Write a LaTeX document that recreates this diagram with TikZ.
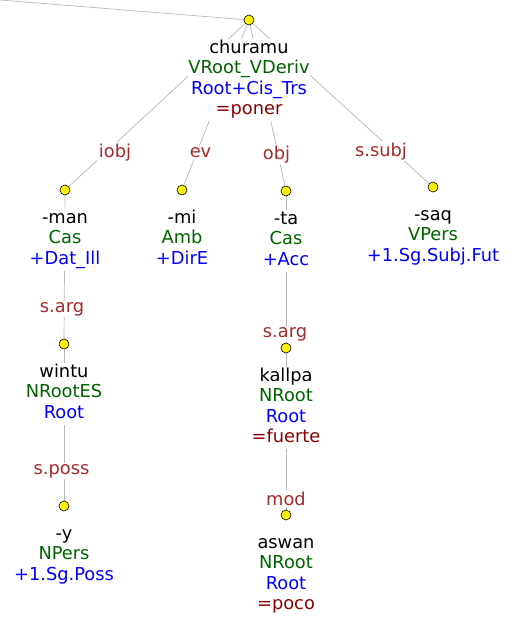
\documentclass[tikz,border=0pt]{standalone}
\usepackage{fontspec}
\setmainfont{DejaVu Sans}
\usetikzlibrary{backgrounds}

\definecolor{catgreen}{rgb}{0, 0.39, 0}
\definecolor{tagblue}{rgb}{0, 0, 1}
\definecolor{lemred}{rgb}{0.545, 0, 0}
\definecolor{relbrown}{rgb}{0.647, 0.165, 0.165}
\definecolor{edgegray}{rgb}{0.72, 0.72, 0.72}

\newcommand{\treefont}{\fontsize{17.8}{20.6}\selectfont}
\newcommand{\tform}[1]{\strut#1}
\newcommand{\tcat}[1]{\textcolor{catgreen}{\strut#1}}
\newcommand{\ttag}[1]{\textcolor{tagblue}{\strut#1}}
\newcommand{\tlem}[1]{\textcolor{lemred}{\strut#1}}

\begin{document}
\begin{tikzpicture}[x=1pt, y=-1pt,
    dot/.style={circle, draw=black, fill=yellow, inner sep=0pt, minimum size=10pt, line width=0.6pt},
    words/.style={anchor=north, align=center, fill=white, inner sep=0pt, font=\treefont, yshift=-18.5pt},
    rel/.style={anchor=base, fill=white, inner sep=1.5pt, text=relbrown, font=\treefont},
    link/.style={draw=edgegray, line width=0.7pt}]
	\useasboundingbox (0,0) rectangle (507,624);

	% dots
	\coordinate (top) at (0,0);
	\node[dot] (churamu) at (249,20) {};
	\node[dot] (man) at (65,190) {};
	\node[dot] (mi) at (182,190) {};
	\node[dot] (ta) at (286,191) {};
	\node[dot] (saq) at (433,187) {};
	\node[dot] (wintu) at (64,344) {};
	\node[dot] (y) at (64,506) {};
	\node[dot] (kallpa) at (286,348) {};
	\node[dot] (aswan) at (286,515) {};

	% edges
	\begin{scope}[on background layer]
		\draw[link] (top) -- (churamu);
		\draw[link] (churamu) -- (man);
		\draw[link] (churamu) -- (mi);
		\draw[link] (churamu) -- (ta);
		\draw[link] (churamu) -- (saq);
		\draw[link] (man) -- (wintu);
		\draw[link] (wintu) -- (y);
		\draw[link] (ta) -- (kallpa);
		\draw[link] (kallpa) -- (aswan);
	\end{scope}

	% edge labels
	\node[rel] (iobj) at (115,157) {iobj};
	\node[rel] (ev) at (200.5,157) {ev};
	\node[rel] (obj) at (276.5,159) {obj};
	\node[rel] (ssubj) at (381,156) {s.subj};
	\node[rel] (sarga) at (62,312) {s.arg};
	\node[rel] (sposs) at (61.5,474) {s.poss};
	\node[rel] (sargb) at (285,337) {s.arg};
	\node[rel] (mod) at (286,505.5) {mod};

	% node texts
	\node[words] (churamu-t) at (churamu.center) {\tform{churamu}\\\tcat{VRoot\_VDeriv}\\\ttag{Root+Cis\_Trs}\\\tlem{=poner}};
	\node[words] (man-t) at (man.center) {\tform{-man}\\\tcat{Cas}\\\ttag{+Dat\_Ill}};
	\node[words] (mi-t) at (mi.center) {\tform{-mi}\\\tcat{Amb}\\\ttag{+DirE}};
	\node[words] (ta-t) at (ta.center) {\tform{-ta}\\\tcat{Cas}\\\ttag{+Acc}};
	\node[words] (saq-t) at (saq.center) {\tform{-saq}\\\tcat{VPers}\\\ttag{+1.Sg.Subj.Fut}};
	\node[words] (wintu-t) at (wintu.center) {\tform{wintu}\\\tcat{NRootES}\\\ttag{Root}};
	\node[words] (y-t) at (y.center) {\tform{-y}\\\tcat{NPers}\\\ttag{+1.Sg.Poss}};
	\node[words] (kallpa-t) at (kallpa.center) {\tform{kallpa}\\\tcat{NRoot}\\\ttag{Root}\\\tlem{=fuerte}};
	\node[words] (aswan-t) at (aswan.center) {\tform{aswan}\\\tcat{NRoot}\\\ttag{Root}\\\tlem{=poco}};
\end{tikzpicture}
\end{document}
